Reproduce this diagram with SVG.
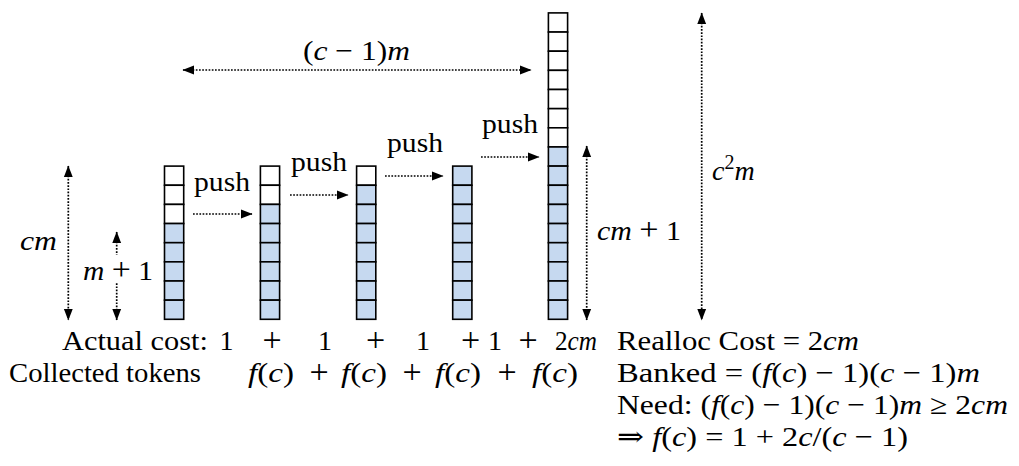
<svg xmlns="http://www.w3.org/2000/svg" width="1019" height="466" viewBox="0 0 1019 466">
<style>
text{font-family:"Liberation Serif","DejaVu Serif",serif;font-size:28px;fill:#000}
.i{font-style:italic}
.p{font-size:34px}
.e{fill:#fff;stroke:#000;stroke-width:1.6}
.f{fill:#c6d9f0;stroke:#000;stroke-width:1.6}
.c{fill:none;stroke:#000;stroke-width:1.7;stroke-dasharray:1.7 1.5}
</style>
<defs>
<marker id="ah" markerUnits="userSpaceOnUse" markerWidth="12" markerHeight="10" viewBox="0 0 10 8" refX="9.5" refY="4" orient="auto-start-reverse">
<path d="M0,0.2 L10,4 L0,7.8 z" fill="#000"/>
</marker>
</defs>
<rect width="1019" height="466" fill="#fff"/>
<g id="connectors">
<path class="c" d="M68.3,166 V320" marker-start="url(#ah)" marker-end="url(#ah)"/>
<path class="c" d="M116.7,232 V320" marker-start="url(#ah)" marker-end="url(#ah)"/>
<path class="c" d="M183,70 H531" marker-start="url(#ah)" marker-end="url(#ah)"/>
<path class="c" d="M586.7,146 V320" marker-start="url(#ah)" marker-end="url(#ah)"/>
<path class="c" d="M701.7,13 V320" marker-start="url(#ah)" marker-end="url(#ah)"/>
<path class="c" d="M193,214 H252" marker-end="url(#ah)"/>
<path class="c" d="M290,195 H348" marker-end="url(#ah)"/>
<path class="c" d="M385,176 H443" marker-end="url(#ah)"/>
<path class="c" d="M481,157 H539" marker-end="url(#ah)"/>
</g>
<g id="stack1">
<rect class="e" x="164.5" y="166.1" width="19.2" height="19.15"/>
<rect class="e" x="164.5" y="185.25" width="19.2" height="19.15"/>
<rect class="e" x="164.5" y="204.4" width="19.2" height="19.15"/>
<rect class="f" x="164.5" y="223.55" width="19.2" height="19.15"/>
<rect class="f" x="164.5" y="242.7" width="19.2" height="19.15"/>
<rect class="f" x="164.5" y="261.85" width="19.2" height="19.15"/>
<rect class="f" x="164.5" y="281" width="19.2" height="19.15"/>
<rect class="f" x="164.5" y="300.15" width="19.2" height="19.15"/>
</g>
<g id="stack2">
<rect class="e" x="260.4" y="166.1" width="19.2" height="19.15"/>
<rect class="e" x="260.4" y="185.25" width="19.2" height="19.15"/>
<rect class="f" x="260.4" y="204.4" width="19.2" height="19.15"/>
<rect class="f" x="260.4" y="223.55" width="19.2" height="19.15"/>
<rect class="f" x="260.4" y="242.7" width="19.2" height="19.15"/>
<rect class="f" x="260.4" y="261.85" width="19.2" height="19.15"/>
<rect class="f" x="260.4" y="281" width="19.2" height="19.15"/>
<rect class="f" x="260.4" y="300.15" width="19.2" height="19.15"/>
</g>
<g id="stack3">
<rect class="e" x="356.6" y="166.1" width="19.2" height="19.15"/>
<rect class="f" x="356.6" y="185.25" width="19.2" height="19.15"/>
<rect class="f" x="356.6" y="204.4" width="19.2" height="19.15"/>
<rect class="f" x="356.6" y="223.55" width="19.2" height="19.15"/>
<rect class="f" x="356.6" y="242.7" width="19.2" height="19.15"/>
<rect class="f" x="356.6" y="261.85" width="19.2" height="19.15"/>
<rect class="f" x="356.6" y="281" width="19.2" height="19.15"/>
<rect class="f" x="356.6" y="300.15" width="19.2" height="19.15"/>
</g>
<g id="stack4">
<rect class="f" x="452.7" y="166.1" width="19.2" height="19.15"/>
<rect class="f" x="452.7" y="185.25" width="19.2" height="19.15"/>
<rect class="f" x="452.7" y="204.4" width="19.2" height="19.15"/>
<rect class="f" x="452.7" y="223.55" width="19.2" height="19.15"/>
<rect class="f" x="452.7" y="242.7" width="19.2" height="19.15"/>
<rect class="f" x="452.7" y="261.85" width="19.2" height="19.15"/>
<rect class="f" x="452.7" y="281" width="19.2" height="19.15"/>
<rect class="f" x="452.7" y="300.15" width="19.2" height="19.15"/>
</g>
<g id="stack5">
<rect class="e" x="548.4" y="12.9" width="19.2" height="19.15"/>
<rect class="e" x="548.4" y="32.05" width="19.2" height="19.15"/>
<rect class="e" x="548.4" y="51.2" width="19.2" height="19.15"/>
<rect class="e" x="548.4" y="70.35" width="19.2" height="19.15"/>
<rect class="e" x="548.4" y="89.5" width="19.2" height="19.15"/>
<rect class="e" x="548.4" y="108.65" width="19.2" height="19.15"/>
<rect class="e" x="548.4" y="127.8" width="19.2" height="19.15"/>
<rect class="f" x="548.4" y="146.95" width="19.2" height="19.15"/>
<rect class="f" x="548.4" y="166.1" width="19.2" height="19.15"/>
<rect class="f" x="548.4" y="185.25" width="19.2" height="19.15"/>
<rect class="f" x="548.4" y="204.4" width="19.2" height="19.15"/>
<rect class="f" x="548.4" y="223.55" width="19.2" height="19.15"/>
<rect class="f" x="548.4" y="242.7" width="19.2" height="19.15"/>
<rect class="f" x="548.4" y="261.85" width="19.2" height="19.15"/>
<rect class="f" x="548.4" y="281" width="19.2" height="19.15"/>
<rect class="f" x="548.4" y="300.15" width="19.2" height="19.15"/>
</g>
<g id="label-cm"><text x="20" y="250" class="i" textLength="37" lengthAdjust="spacingAndGlyphs">cm</text></g>
<g id="label-m1"><rect x="84" y="255" width="70" height="27" fill="#fff"/><text x="83" y="280" textLength="70" lengthAdjust="spacingAndGlyphs"><tspan class="i">m</tspan> <tspan font-size="32">+</tspan> 1</text></g>
<g id="label-c1m"><text x="303" y="60" textLength="107" lengthAdjust="spacingAndGlyphs">(<tspan class="i">c</tspan> − 1)<tspan class="i">m</tspan></text></g>
<g id="label-cm1"><text x="597" y="240" textLength="84" lengthAdjust="spacingAndGlyphs"><tspan class="i">cm</tspan> <tspan font-size="32">+</tspan> 1</text></g>
<g id="label-c2m"><text x="712" y="180"><tspan class="i">c</tspan><tspan font-size="20" dy="-11">2</tspan><tspan class="i" dy="11">m</tspan></text></g>
<g id="push1"><text x="194" y="190.5" textLength="56" lengthAdjust="spacingAndGlyphs">push</text></g>
<g id="push2"><text x="291" y="171.4" textLength="56" lengthAdjust="spacingAndGlyphs">push</text></g>
<g id="push3"><text x="387" y="152.2" textLength="56" lengthAdjust="spacingAndGlyphs">push</text></g>
<g id="push4"><text x="482" y="133.1" textLength="56" lengthAdjust="spacingAndGlyphs">push</text></g>
<g id="actual-cost">
<text x="62" y="350" textLength="146" lengthAdjust="spacingAndGlyphs">Actual cost:</text>
<text x="226.5" y="350" text-anchor="middle">1</text>
<text x="272" y="351" text-anchor="middle" class="p">+</text>
<text x="325" y="350" text-anchor="middle">1</text>
<text x="375.5" y="351" text-anchor="middle" class="p">+</text>
<text x="423" y="350" text-anchor="middle">1</text>
<text x="470.5" y="351" text-anchor="middle" class="p">+</text>
<text x="495" y="350" text-anchor="middle">1</text>
<text x="528" y="351" text-anchor="middle" class="p">+</text>
<text x="555" y="350" textLength="42" lengthAdjust="spacingAndGlyphs">2<tspan class="i">cm</tspan></text>
</g>
<g id="collected">
<text x="9" y="382" textLength="192" lengthAdjust="spacingAndGlyphs">Collected tokens</text>
<text x="248" y="382" textLength="46" lengthAdjust="spacingAndGlyphs"><tspan class="i">f</tspan>(<tspan class="i">c</tspan>)</text>
<text x="319" y="383" text-anchor="middle" class="p">+</text>
<text x="341" y="382" textLength="46" lengthAdjust="spacingAndGlyphs"><tspan class="i">f</tspan>(<tspan class="i">c</tspan>)</text>
<text x="412" y="383" text-anchor="middle" class="p">+</text>
<text x="435" y="382" textLength="46" lengthAdjust="spacingAndGlyphs"><tspan class="i">f</tspan>(<tspan class="i">c</tspan>)</text>
<text x="507" y="383" text-anchor="middle" class="p">+</text>
<text x="532" y="382" textLength="46" lengthAdjust="spacingAndGlyphs"><tspan class="i">f</tspan>(<tspan class="i">c</tspan>)</text>
</g>
<g id="analysis">
<text x="617" y="350" textLength="242" lengthAdjust="spacingAndGlyphs">Realloc Cost = 2<tspan class="i">cm</tspan></text>
<text x="617" y="382" textLength="363" lengthAdjust="spacingAndGlyphs">Banked = (<tspan class="i">f</tspan>(<tspan class="i">c</tspan>) − 1)(<tspan class="i">c</tspan> − 1)<tspan class="i">m</tspan></text>
<text x="617" y="414" textLength="391" lengthAdjust="spacingAndGlyphs">Need: (<tspan class="i">f</tspan>(<tspan class="i">c</tspan>) − 1)(<tspan class="i">c</tspan> − 1)<tspan class="i">m</tspan> ≥ 2<tspan class="i">cm</tspan></text>
<text x="617" y="446" textLength="291" lengthAdjust="spacingAndGlyphs">⇒ <tspan class="i">f</tspan>(<tspan class="i">c</tspan>) = 1 + 2<tspan class="i">c</tspan>/(<tspan class="i">c</tspan> − 1)</text>
</g>
</svg>
